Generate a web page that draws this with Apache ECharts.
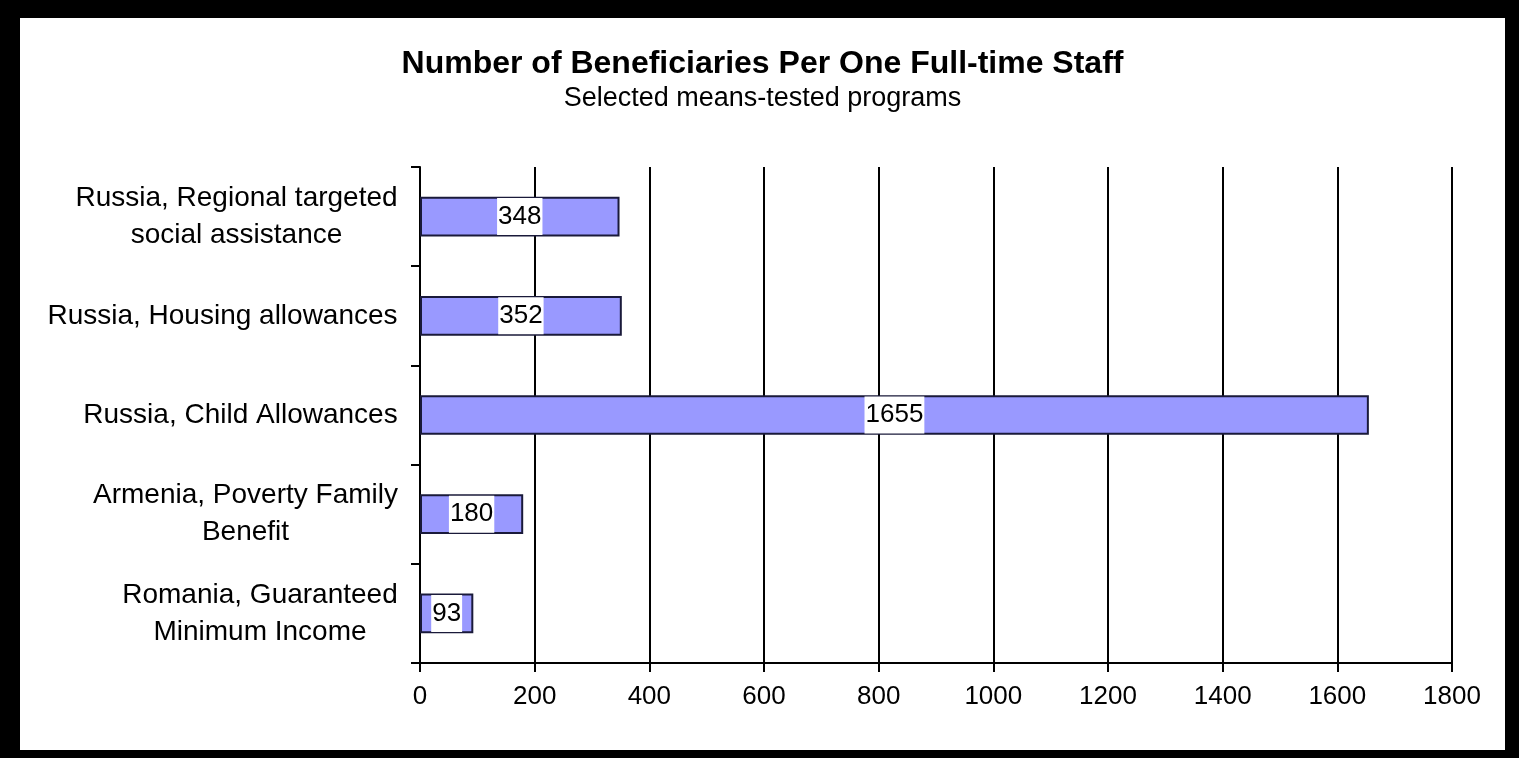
<!DOCTYPE html>
<html>
<head>
<meta charset="utf-8">
<script src="https://cdn.jsdelivr.net/npm/echarts@6/dist/echarts.min.js"></script>
<style>
  html, body { margin: 0; padding: 0; background: #000; width: 1519px; height: 758px; overflow: hidden; }
  #chart { position: absolute; left: 20px; top: 18px; width: 1485px; height: 732px; background: #fff; }
</style>
</head>
<body>
<div id="chart"></div>
<script>
// Programs, listed bottom to top as the category axis draws them
const programs = [
  'Romania, Guaranteed\nMinimum Income',
  'Armenia, Poverty Family\nBenefit',
  'Russia, Child Allowances',
  'Russia, Housing allowances',
  'Russia, Regional targeted\nsocial assistance'
];
// Beneficiaries per one full-time staff member
const beneficiariesPerStaff = [93, 180, 1655, 352, 348];
// Value axis ticks
const axisMin = 0;
const axisMax = 1800;
const axisStep = 200;

const FONT = '"Liberation Sans", Arial, sans-serif';
const LABEL_SIZE = 28;
const LINE_H = 37;

// Measure text so multi-line category labels can be centred line by line
const ctx = document.createElement('canvas').getContext('2d');
ctx.font = LABEL_SIZE + 'px ' + FONT;
function blockWidth(name) {
  return Math.ceil(Math.max(...name.split('\n').map(l => ctx.measureText(l).width)));
}

// One rich style per category: every line gets the block width and is centred in it
const rich = {};
programs.forEach((p, i) => {
  rich['b' + i] = {
    fontFamily: FONT, fontSize: LABEL_SIZE, color: '#000',
    lineHeight: LINE_H, width: blockWidth(p), align: 'center'
  };
});

const chart = echarts.init(document.getElementById('chart'));
chart.setOption({
  backgroundColor: '#fff',
  animation: false,
  title: [
    {
      text: 'Number of Beneficiaries Per One Full-time Staff',
      left: 'center', top: 25,
      textStyle: { fontFamily: FONT, fontSize: 32, fontWeight: 'bold', color: '#000' }
    },
    {
      text: 'Selected means-tested programs',
      left: 'center', top: 62,
      textStyle: { fontFamily: FONT, fontSize: 27, fontWeight: 'normal', color: '#000' }
    }
  ],
  grid: { left: 400, right: 53, top: 149, bottom: 87 },
  xAxis: {
    type: 'value',
    min: axisMin, max: axisMax, interval: axisStep,
    axisLine: { show: true, lineStyle: { color: '#000', width: 2 } },
    axisTick: { show: true, length: 9, lineStyle: { color: '#000', width: 2 } },
    splitLine: { show: true, lineStyle: { color: '#000', width: 2 } },
    axisLabel: {
      fontFamily: FONT, fontSize: 26, color: '#000', margin: 21,
      formatter: v => String(v)
    }
  },
  yAxis: {
    type: 'category',
    data: programs,
    axisLine: { show: true, lineStyle: { color: '#000', width: 2 } },
    axisTick: { show: true, length: 9, lineStyle: { color: '#000', width: 2 } },
    splitLine: { show: false },
    axisLabel: {
      fontFamily: FONT, fontSize: LABEL_SIZE, color: '#000', margin: 22, align: 'right',
      formatter: function (name) {
        const key = 'b' + programs.indexOf(name);
        return name.split('\n').map(l => '{' + key + '|' + l + '}').join('\n');
      },
      rich: rich
    }
  },
  series: [{
    type: 'bar',
    data: beneficiariesPerStaff,
    barWidth: '40%',
    itemStyle: { color: '#9999ff', borderColor: '#1a1a3a', borderWidth: 2 },
    label: {
      show: true, position: 'inside',
      fontFamily: FONT, fontSize: 26, color: '#000',
      backgroundColor: '#fff', padding: [6, 1, 5, 1]
    }
  }]
});
</script>
</body>
</html>
